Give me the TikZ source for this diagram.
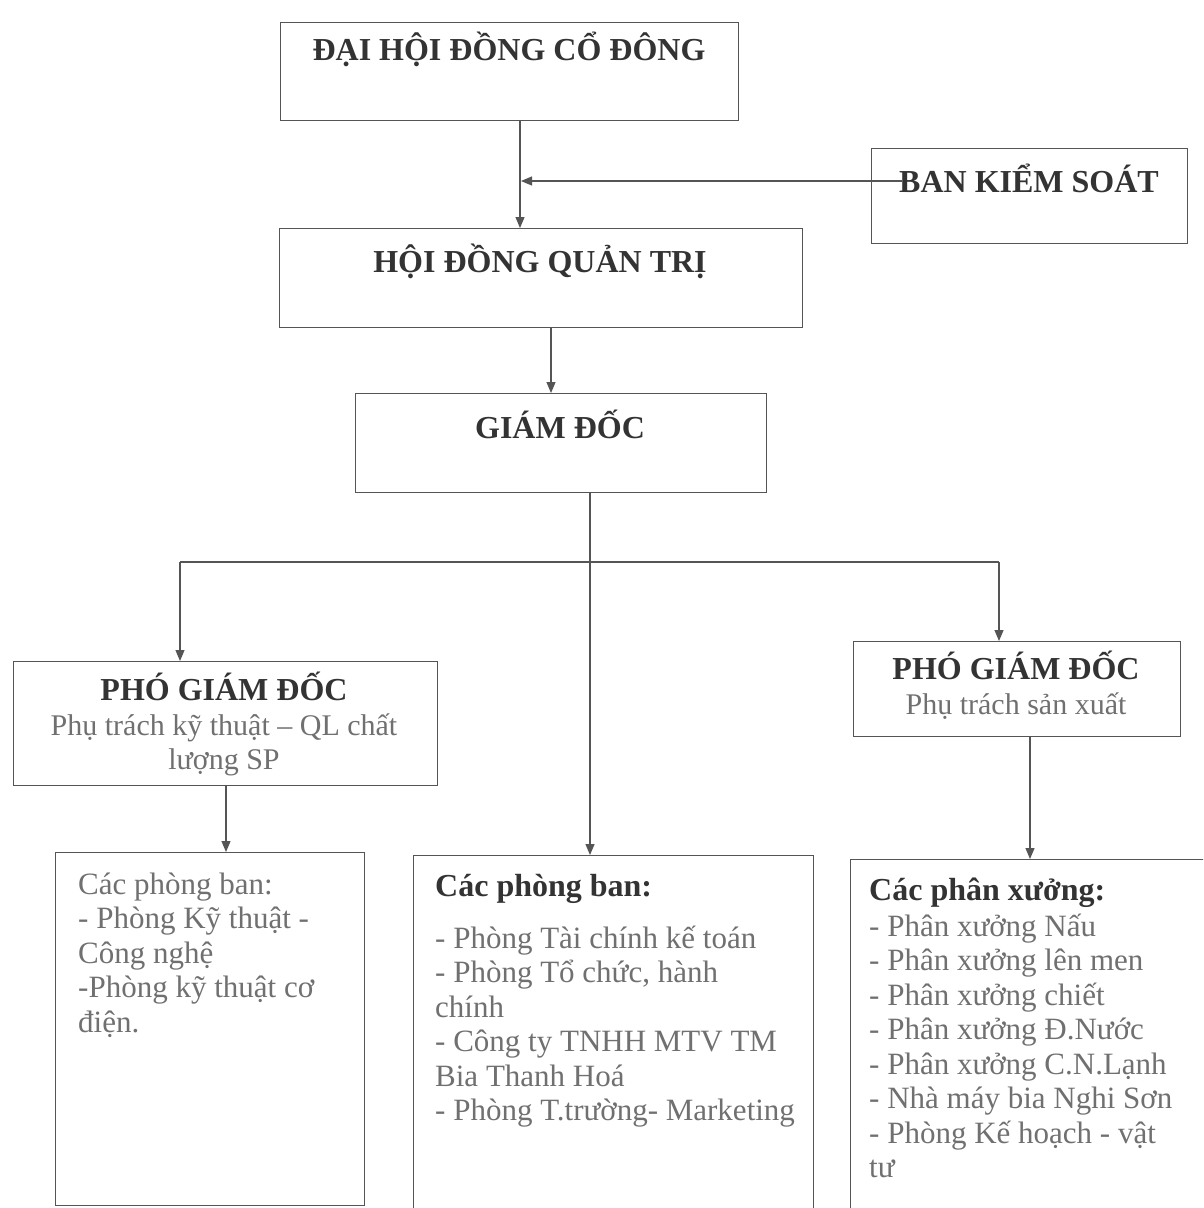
\documentclass[tikz,border=0pt]{standalone}
\usepackage{fontspec}
\setmainfont{Liberation Serif}
\usetikzlibrary{arrows.meta}
\definecolor{ink}{HTML}{333333}
\definecolor{soft}{HTML}{707070}
\definecolor{edgec}{HTML}{555555}
\newcommand{\tlines}[2]{\begin{tabular}[t]{@{}#1@{}}#2\end{tabular}}
\begin{document}
\begin{tikzpicture}[x=1pt,y=-1pt,
  box/.style={draw=edgec, line width=1.2pt, inner sep=0pt, anchor=north west},
  ttl/.style={font=\fontsize{32}{34.5}\selectfont\bfseries, text=ink, inner sep=0pt, anchor=base},
  sub/.style={font=\fontsize{30}{34}\selectfont, text=soft, inner sep=0pt, anchor=base},
  body/.style={font=\fontsize{31}{34.5}\selectfont, text=soft, inner sep=0pt, anchor=base west},
  conn/.style={draw=edgec, line width=1.2pt},
  arr/.style={conn, -{Triangle[width=9pt,length=11pt]}}
]
\useasboundingbox (0,0) rectangle (1203,1208);
\fill[white] (0,0) rectangle (1203,1208);
\clip (0,0) rectangle (1203,1208);

% boxes
\node[box, minimum width=458pt, minimum height=98pt] (dh) at (280,22) {};
\node[box, minimum width=316pt, minimum height=95pt] (bks) at (871,148) {};
\node[box, minimum width=523pt, minimum height=99pt] (hq) at (279,228) {};
\node[box, minimum width=411pt, minimum height=99pt] (gd) at (355,393) {};
\node[box, minimum width=424pt, minimum height=124pt] (pl) at (13,661) {};
\node[box, minimum width=327pt, minimum height=95pt] (pr) at (853,641) {};
\node[box, minimum width=309pt, minimum height=353pt] (b5) at (55,852) {};
\node[box, minimum width=400pt, minimum height=380pt] (b6) at (413,855) {};
\node[box, minimum width=380pt, minimum height=380pt] (b7) at (850,859) {};

% texts
\node[ttl] (dht) at (509,60) {ĐẠI HỘI ĐỒNG CỔ ĐÔNG};
\node[ttl] (bkst) at (1029,192) {BAN KIỂM SOÁT};
\node[ttl] (hqt) at (540,272) {HỘI ĐỒNG QUẢN TRỊ};
\node[ttl] (gdt) at (560,438) {GIÁM ĐỐC};
\node[ttl] (plt) at (224,700) {PHÓ GIÁM ĐỐC};
\node[sub] (pls) at (224,735) {\tlines{c}{Phụ trách kỹ thuật – QL chất\\lượng SP}};
\node[ttl] (prt) at (1016,679) {PHÓ GIÁM ĐỐC};
\node[sub] (prs) at (1016,714) {Phụ trách sản xuất};

\node[body] (b5t) at (78,894) {\tlines{l}{Các phòng ban:\\- Phòng Kỹ thuật -\\Công nghệ\\-Phòng kỹ thuật cơ\\điện.}};
\node[ttl, anchor=base west] (b6h) at (435,896) {Các phòng ban:};
\node[body] (b6t) at (435,948) {\tlines{l}{- Phòng Tài chính kế toán\\- Phòng Tổ chức, hành\\chính\\- Công ty TNHH MTV TM\\Bia Thanh Hoá\\- Phòng T.trường- Marketing}};
\node[ttl, anchor=base west] (b7h) at (869,900) {Các phân xưởng:};
\node[body] (b7t) at (869,936) {\tlines{l}{- Phân xưởng Nấu\\- Phân xưởng lên men\\- Phân xưởng chiết\\- Phân xưởng Đ.Nước\\- Phân xưởng C.N.Lạnh\\- Nhà máy bia Nghi Sơn\\- Phòng Kế hoạch - vật\\tư}};

% connectors
\coordinate (j1) at (520,120);
\draw[arr] (j1) -- (j1 |- hq.north);
\coordinate (bksin) at (902,181);
\coordinate (bkstip) at (521,181);
\draw[arr] (bksin) -- (bkstip);
\coordinate (j2) at (551,327);
\draw[arr] (j2) -- (j2 |- gd.north);
\coordinate (j3) at (590,492);
\draw[arr] (j3) -- (j3 |- b6.north);
\coordinate (bl) at (180,562);
\coordinate (bri) at (999,562);
\draw[conn] (bl) -- (bri);
\draw[arr] (bl) -- (bl |- pl.north);
\draw[arr] (bri) -- (bri |- pr.north);
\coordinate (j4) at (226,785);
\draw[arr] (j4) -- (j4 |- b5.north);
\coordinate (j5) at (1030,736);
\draw[arr] (j5) -- (j5 |- b7.north);
\end{tikzpicture}
\end{document}
